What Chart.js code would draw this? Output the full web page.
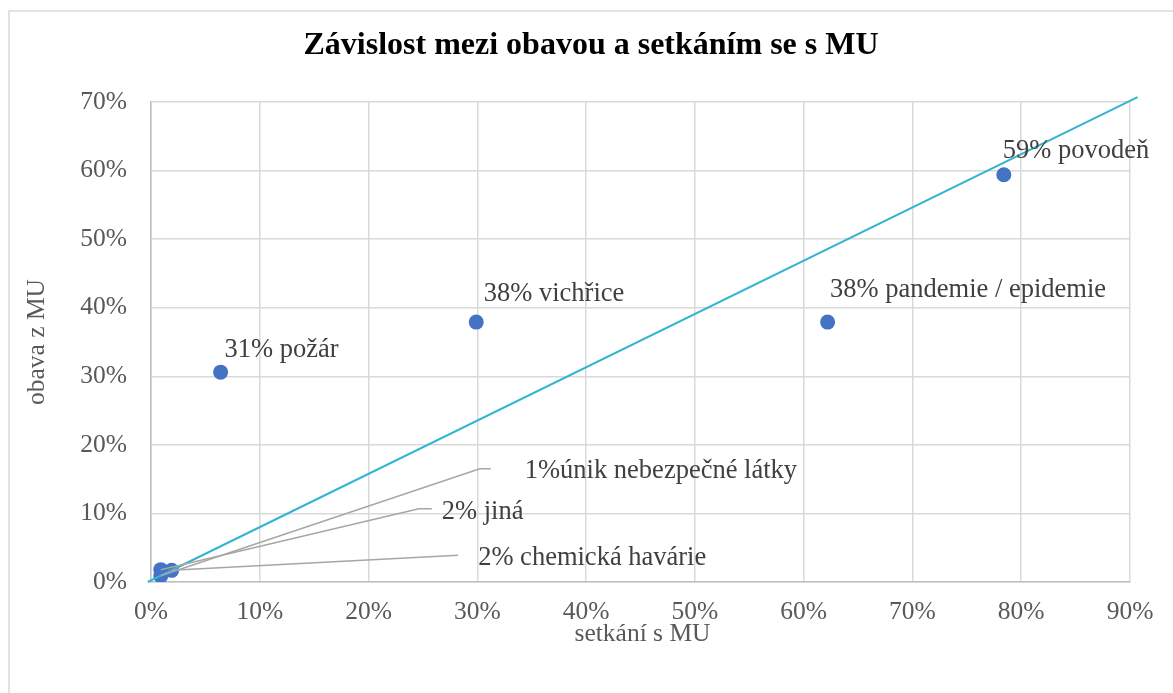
<!DOCTYPE html>
<html>
<head>
<meta charset="utf-8">
<script src="https://cdn.jsdelivr.net/npm/chart.js@4/dist/chart.umd.min.js"></script>
<style>
  html, body { margin: 0; padding: 0; background: #fff; }
  #wrap { width: 1173px; height: 693px; }
</style>
</head>
<body>
<div id="wrap"><canvas id="chart" width="1173" height="693"></canvas></div>
<script>
'use strict';

// setkání s MU (x) vs. obava z MU (y), in percent
const categories = ['povodeň', 'pandemie / epidemie', 'vichřice', 'požár', 'únik nebezpečné látky', 'jiná', 'chemická havárie'];
const setkani = [78.4, 62.2, 29.9, 6.4, 0.9, 0.9, 1.9];
const obava = [59.4, 37.9, 37.9, 30.6, 0.9, 1.8, 1.7];
const labelSep = [' ', ' ', ' ', ' ', '', ' ', ' '];

// linear trend line, two end points
const trendX = [-0.3, 90.7];
const trendY = [0, 70.7];

const xTicks = [0, 10, 20, 30, 40, 50, 60, 70, 80, 90];
const yTicks = [0, 10, 20, 30, 40, 50, 60, 70];

const FONT = "'Liberation Serif', 'Times New Roman', serif";

// where each data label sits relative to its point (px); leader = [start gap, elbow length]
const labelPlacement = [
  { dx: -1, dy: -17 },
  { dx: 2.5, dy: -25 },
  { dx: 7.5, dy: -21 },
  { dx: 4, dy: -15 },
  { dx: 364, dy: -98, leader: [34, 11], ly: -9 },
  { dx: 281, dy: -51, leader: [10, 13], ly: -10 },
  { dx: 306.5, dy: -5, leader: [20, 0], ly: -10 }
];

const points = setkani.map((x, i) => ({ x: x, y: obava[i] }));
const trend = trendX.map((x, i) => ({ x: x, y: trendY[i] }));

const framePlugin = {
  id: 'frame',
  beforeDraw(chart) {
    const ctx = chart.ctx;
    ctx.save();
    ctx.fillStyle = '#fff';
    ctx.fillRect(0, 0, chart.width, chart.height);
    ctx.strokeStyle = '#d9d9d9';
    ctx.lineWidth = 1.5;
    ctx.beginPath();
    ctx.moveTo(9, chart.height);
    ctx.lineTo(9, 11);
    ctx.lineTo(chart.width, 11);
    ctx.stroke();
    ctx.restore();
  },
  afterDraw(chart) {
    const ctx = chart.ctx;
    const area = chart.chartArea;
    ctx.save();
    ctx.fillStyle = '#000';
    ctx.font = `bold 32px ${FONT}`;
    ctx.textAlign = 'center';
    ctx.textBaseline = 'middle';
    ctx.fillText('Závislost mezi obavou a setkáním se s MU', 591, 46);

    ctx.fillStyle = '#595959';
    ctx.font = `25.5px ${FONT}`;
    ctx.fillText('setkání s MU', (area.left + area.right) / 2 + 2, 634);
    ctx.translate(37, (area.top + area.bottom) / 2);
    ctx.rotate(-Math.PI / 2);
    ctx.fillText('obava z MU', 0, 0);
    ctx.restore();
  }
};

const labelPlugin = {
  id: 'pointLabels',
  afterDatasetsDraw(chart) {
    const ctx = chart.ctx;
    const xs = chart.scales.x;
    const ys = chart.scales.y;
    ctx.save();
    ctx.font = `26.5px ${FONT}`;
    ctx.textAlign = 'left';
    ctx.textBaseline = 'alphabetic';
    points.forEach((p, i) => {
      const px = xs.getPixelForValue(p.x);
      const py = ys.getPixelForValue(p.y);
      const pl = labelPlacement[i];
      const tx = px + pl.dx;
      const ty = py + pl.dy;
      if (pl.leader) {
        const lx = tx - pl.leader[0];
        const ly = ty + pl.ly;
        ctx.strokeStyle = '#a6a6a6';
        ctx.lineWidth = 1.5;
        ctx.beginPath();
        ctx.moveTo(lx, ly);
        ctx.lineTo(lx - pl.leader[1], ly);
        ctx.lineTo(px, py);
        ctx.stroke();
      }
      ctx.fillStyle = '#404040';
      ctx.fillText(Math.round(p.y) + '%' + labelSep[i] + categories[i], tx, ty);
    });
    ctx.restore();
  }
};

const ctx = document.getElementById('chart').getContext('2d');
new Chart(ctx, {
  type: 'scatter',
  data: {
    datasets: [
      {
        label: 'trend',
        type: 'line',
        data: trend,
        borderColor: '#33b4d1',
        borderWidth: 2,
        pointRadius: 0,
        fill: false,
        clip: { left: 6, top: 8, right: 10, bottom: 2 }
      },
      {
        label: 'obava',
        data: points,
        backgroundColor: '#4472c4',
        borderColor: '#4472c4',
        pointRadius: 7.5,
        pointBorderWidth: 0
      }
    ]
  },
  options: {
    responsive: false,
    animation: false,
    layout: { padding: { left: 0, top: 102, right: 43, bottom: 0 } },
    plugins: {
      legend: { display: false },
      tooltip: { enabled: false },
      title: { display: false }
    },
    scales: {
      x: {
        type: 'linear',
        min: 0,
        max: 90,
        afterFit(scale) { scale.height = 111; },
        afterBuildTicks(scale) { scale.ticks = xTicks.map(v => ({ value: v })); },
        grid: { color: '#d9d9d9', lineWidth: 1.5, drawTicks: false },
        border: { color: '#bfbfbf', width: 1.5 },
        ticks: {
          padding: 15,
          color: '#595959',
          font: { family: FONT, size: 25.5 },
          callback: v => v + '%'
        }
      },
      y: {
        type: 'linear',
        min: 0,
        max: 70,
        afterFit(scale) { scale.width = 151; },
        afterBuildTicks(scale) { scale.ticks = yTicks.map(v => ({ value: v })); },
        grid: { color: '#d9d9d9', lineWidth: 1.5, drawTicks: false },
        border: { color: '#bfbfbf', width: 1.5 },
        ticks: {
          padding: 24,
          color: '#595959',
          font: { family: FONT, size: 25.5 },
          callback: v => v + '%'
        }
      }
    }
  },
  plugins: [framePlugin, labelPlugin]
});
</script>
</body>
</html>
